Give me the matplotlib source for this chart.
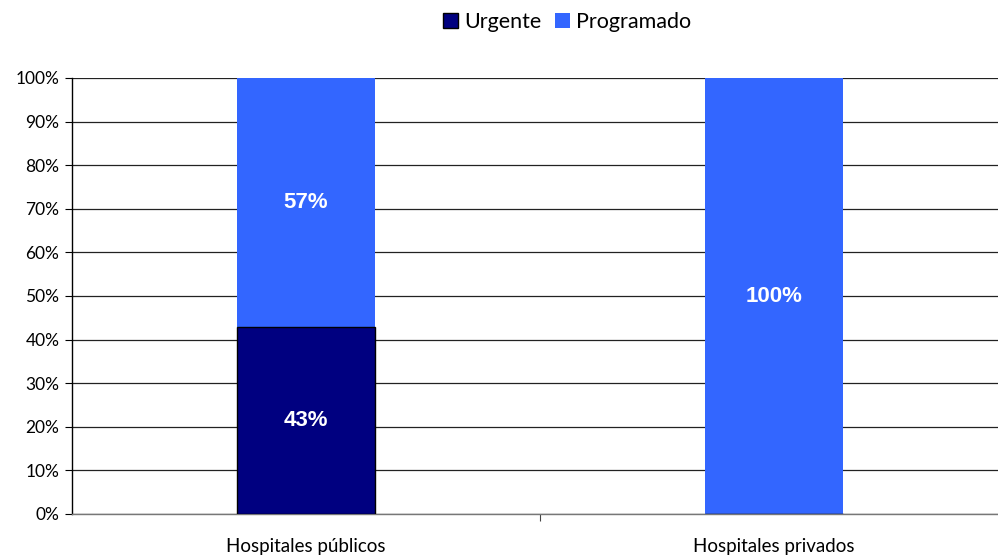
import numpy as np
import matplotlib.pyplot as plt
from matplotlib.patches import Patch

categories = ['Hospitales públicos', 'Hospitales privados']
urgente = [43, 0]
programado = [57, 100]
yticks = [0, 10, 20, 30, 40, 50, 60, 70, 80, 90, 100]

c_urg = '#000080'
c_prog = '#3366FF'
lab_font = ['Lato', 'DejaVu Sans']

fig = plt.figure(figsize=(9.98, 5.55), dpi=100)
ax = fig.add_axes([72/998, 41/555, 936/998, 436/555])

x = np.arange(len(categories))
w = 0.297
ax.bar(x, urgente, w, color=c_urg, edgecolor='black', linewidth=1.0, zorder=3)
ax.bar(x, programado, w, bottom=urgente, color=c_prog, linewidth=0, zorder=2)

# data labels, only where the segment is there
for i in range(len(categories)):
    if urgente[i] > 0:
        ax.text(x[i], urgente[i] / 2, f'{urgente[i]}%', ha='center', va='center',
                color='white', fontsize=16, fontweight='bold', family='Liberation Sans', zorder=4)
    if programado[i] > 0:
        ax.text(x[i], urgente[i] + programado[i] / 2, f'{programado[i]}%', ha='center', va='center',
                color='white', fontsize=16, fontweight='bold', family='Liberation Sans', zorder=4)

ax.set_xlim(-0.5, 1.5)
ax.set_ylim(0, 100)
ax.set_yticks(yticks)
ax.set_yticklabels([f'{t}%' for t in yticks], family=lab_font, fontsize=12.5)
ax.yaxis.grid(True, color='#222222', linewidth=0.9, zorder=1)
ax.tick_params(axis='y', length=5, width=0.8, pad=4, color='black')

ax.set_xticks(x)
ax.set_xticklabels(categories, family=lab_font, fontsize=13.5)
ax.tick_params(axis='x', length=0, pad=17)
ax.set_xticks([0.5], minor=True)
ax.tick_params(axis='x', which='minor', length=5, width=0.8, color='#444444')

for s in ['top', 'right']:
    ax.spines[s].set_visible(False)
ax.spines['left'].set_color('black')
ax.spines['left'].set_linewidth(1.0)
ax.spines['bottom'].set_color('#777777')
ax.spines['bottom'].set_linewidth(1.0)

handles = [Patch(facecolor=c_urg, edgecolor='black', linewidth=1.0, label='Urgente'),
           Patch(facecolor=c_prog, edgecolor='none', label='Programado')]
fig.legend(handles=handles, loc='center', bbox_to_anchor=(567/998, 1 - 22/555), ncol=2,
           frameon=False, prop={'family': lab_font, 'size': 15.5}, handlelength=0.7,
           handleheight=0.7, handletextpad=0.3, columnspacing=0.6)

fig.savefig('out.png', dpi=100)
